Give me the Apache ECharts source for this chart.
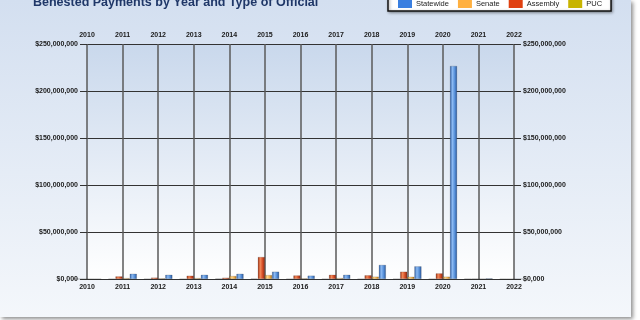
<!DOCTYPE html>
<html><head><meta charset="utf-8">
<script src="https://cdn.jsdelivr.net/npm/echarts@6/dist/echarts.min.js"></script>
<style>html,body{margin:0;padding:0;background:#fff}#c{width:640px;height:320px}</style>
</head><body><div id="c"></div>
<script>
const years = ['2010','2011','2012','2013','2014','2015','2016','2017','2018','2019','2020','2021','2022'];
const statewide = [0, 5.6e6, 4.5e6, 4.5e6, 5.6e6, 7.8e6, 3.6e6, 4.5e6, 15e6, 13.5e6, 226.7e6, 0.8e6, 0];
const senate    = [0, 1.0e6, 0.8e6, 1.0e6, 3.2e6, 4.2e6, 0.8e6, 1.0e6, 2.5e6, 2.4e6, 2.5e6, 0.2e6, 0];
const assembly  = [0, 2.8e6, 1.5e6, 3.5e6, 1.4e6, 23.4e6, 3.8e6, 4.5e6, 4.0e6, 7.8e6, 6.0e6, 0.4e6, 0];
const puc       = [0, 0, 0, 0, 0.5e6, 0.4e6, 0, 0, 0, 0, 0, 0.2e6, 0];
const yTickLabels = ['$0,000','$50,000,000','$100,000,000','$150,000,000','$200,000,000','$250,000,000'];
const yStep = 50000000;
const yMax = 250000000;

function cyl(c0, c1, c2, c3) {
  return new echarts.graphic.LinearGradient(0, 0, 1, 0, [
    {offset: 0, color: c0}, {offset: 0.35, color: c1}, {offset: 0.65, color: c2}, {offset: 1, color: c3}
  ]);
}
const legendColors = {Statewide: '#3a7fe0', Senate: '#ffb040', Assembly: '#e04010', PUC: '#c8b400'};
const fills = {
  Statewide: cyl('#2a5aa2', '#8cbaf2', '#5a93dc', '#28569a'),
  Senate: cyl('#b87a1c', '#ffd68a', '#f5b04a', '#a8701a'),
  Assembly: cyl('#9a2c10', '#f28a5a', '#d85028', '#8a2810'),
  PUC: cyl('#807000', '#eadf5a', '#c8b400', '#706200')
};
const lbl = {fontFamily: 'Liberation Sans', fontSize: 7, fontWeight: 'bold', color: '#1a1a1a'};

function mk(name, data) {
  return {
    name, type: 'bar', data, xAxisIndex: 0, yAxisIndex: 0,
    barGap: '0%', barCategoryGap: '20%',
    itemStyle: {color: fills[name], borderColor: 'rgba(40,40,40,0.35)', borderWidth: 0.5},
    emphasis: {disabled: true}
  };
}
const legendNames = ['Statewide', 'Senate', 'Assembly', 'PUC'];

const chart = echarts.init(document.getElementById('c'));
chart.setOption({
  animation: false,
  backgroundColor: '#ffffff',
  graphic: [{
    type: 'rect', z: -10, silent: true,
    shape: {x: 0, y: 0, width: 631, height: 317},
    style: {
      fill: new echarts.graphic.LinearGradient(0, 0, 0, 1, [{offset: 0, color: '#d3dff0'}, {offset: 1, color: '#f4f7fb'}]),
      shadowBlur: 4, shadowColor: 'rgba(0,0,0,0.45)', shadowOffsetX: 2, shadowOffsetY: 2
    }
  }],
  title: {
    text: 'Behested Payments by Year and Type of Official',
    left: 28, top: -9,
    textStyle: {fontFamily: 'Liberation Sans', fontSize: 12.5, fontWeight: 'bold', color: '#1f3768'}
  },
  legend: {
    data: legendNames.map(n => ({name: n, itemStyle: {color: legendColors[n], borderWidth: 0}})),
    left: 388, top: -13,
    padding: [12, 9, 3, 10],
    itemWidth: 14, itemHeight: 9, itemGap: 9,
    backgroundColor: '#ffffff', borderColor: '#111', borderWidth: 1.5,
    shadowBlur: 3, shadowColor: 'rgba(0,0,0,0.4)', shadowOffsetX: 1, shadowOffsetY: 1,
    textStyle: {fontFamily: 'Liberation Sans', fontSize: 7.5, color: '#222', padding: [0, 0, 0, -1]},
    icon: 'rect',
    selectedMode: false
  },
  grid: {
    left: 87, right: 126, top: 44, bottom: 41,
    show: true, borderWidth: 0,
    backgroundColor: new echarts.graphic.LinearGradient(0, 0, 0, 1, [{offset: 0, color: '#c9d8ec'}, {offset: 1, color: '#ffffff'}])
  },
  xAxis: [{
    type: 'category', data: years, position: 'bottom', boundaryGap: false,
    axisLine: {show: false}, axisTick: {show: false},
    axisLabel: Object.assign({margin: 5, interval: 0}, lbl),
    splitLine: {show: true, lineStyle: {color: '#5a5a5a', width: 1.5}}
  }, {
    type: 'category', data: years, position: 'top', boundaryGap: false,
    axisLine: {show: false}, axisTick: {show: false},
    axisLabel: Object.assign({margin: 5, interval: 0}, lbl),
    splitLine: {show: false}
  }],
  yAxis: [{
    type: 'value', min: 0, max: yMax, interval: yStep, position: 'left',
    axisLine: {show: false},
    axisTick: {show: true, length: 7, lineStyle: {color: '#333', width: 1}},
    axisLabel: Object.assign({margin: 9, formatter: v => yTickLabels[Math.round(v / yStep)]}, lbl),
    splitLine: {show: true, lineStyle: {color: '#333', width: 1}}
  }, {
    type: 'value', min: 0, max: yMax, interval: yStep, position: 'right',
    axisLine: {show: false},
    axisTick: {show: true, length: 7, lineStyle: {color: '#333', width: 1}},
    axisLabel: Object.assign({margin: 9, formatter: v => yTickLabels[Math.round(v / yStep)]}, lbl),
    splitLine: {show: false}
  }],
  series: [mk('PUC', puc), mk('Assembly', assembly), mk('Senate', senate), mk('Statewide', statewide)]
});
</script></body></html>
